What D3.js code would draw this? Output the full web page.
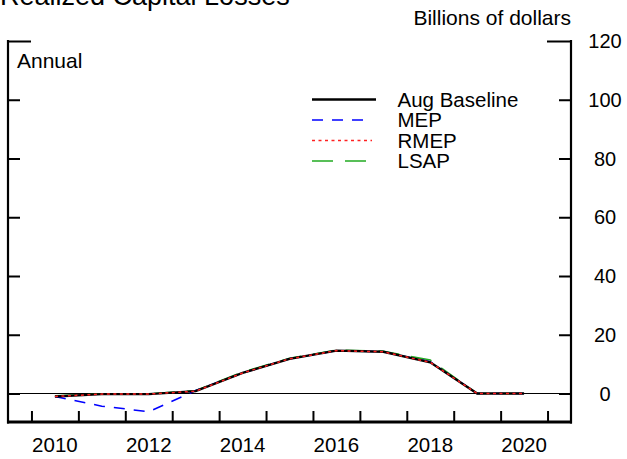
<!DOCTYPE html>
<html>
<head>
<meta charset="utf-8">
<script src="https://cdn.jsdelivr.net/npm/d3@7"></script>
<style>
  html, body { margin: 0; padding: 0; background: #fff; }
  svg { display: block; }
  text { font-family: "Liberation Sans", Arial, sans-serif; fill: #000; }
</style>
</head>
<body>
<svg id="chart" width="627" height="459"></svg>
<script>
const years = [2010, 2011, 2012, 2013, 2014, 2015, 2016, 2017, 2018, 2019, 2020];
const augBaseline = [-1.0, -0.2, -0.2, 0.8, 7.0, 11.8, 14.6, 14.2, 10.6, 0, 0];
const mep = [-1.0, -4.3, -6.2, 1.0, 7.0, 11.8, 14.6, 14.2, 10.8, 0, 0];
const rmep = [-1.0, -0.2, -0.2, 0.8, 7.0, 11.8, 14.6, 14.2, 10.6, 0, 0];
const lsap = [-0.8, -0.1, -0.1, 1.0, 7.3, 12.0, 14.8, 14.4, 11.4, 0, 0];
const yTicks = [0, 20, 40, 60, 80, 100, 120];
const xLabelYears = [2010, 2012, 2014, 2016, 2018, 2020];
const xTickYears = d3.range(2010, 2022);

const seriesList = [
  { name: "LSAP", values: lsap, color: "#22aa22", width: 1.5, dash: "21,12" },
  { name: "MEP", values: mep, color: "#0000ff", width: 1.5, dash: "11,9" },
  { name: "Aug Baseline", values: augBaseline, color: "#000000", width: 2.4, dash: null },
  { name: "RMEP", values: rmep, color: "#ff2020", width: 1.5, dash: "3,3.5" }
];
const legendOrder = ["Aug Baseline", "MEP", "RMEP", "LSAP"];
const legendLen = { "Aug Baseline": 64, "MEP": 55, "RMEP": 60, "LSAP": 55 };

const svg = d3.select("#chart");
const pLeft = 8, pRight = 571, pTop = 41, pBottom = 422;
const x = d3.scaleLinear().domain([2009.5, 2021.5]).range([pLeft, pRight]);
const y = d3.scaleLinear().domain([-9.7, 120]).range([pBottom, pTop]);

// title (partially cut at top, as in the reference)
svg.append("text").attr("x", 0).attr("y", 4.5).attr("font-size", 27).text("Realized Capital Losses");
svg.append("text").attr("x", pRight).attr("y", 25).attr("text-anchor", "end").attr("font-size", 21).text("Billions of dollars");
svg.append("text").attr("x", 17).attr("y", 67.5).attr("font-size", 21).text("Annual");

// zero line
svg.append("line").attr("x1", pLeft).attr("x2", pRight).attr("y1", y(0)).attr("y2", y(0))
  .attr("stroke", "#000").attr("stroke-width", 1);

// y ticks both sides
const yAxisL = d3.axisRight(y).tickValues(yTicks).tickSize(12).tickFormat("");
const gL = svg.append("g").attr("transform", `translate(${pLeft},0)`).call(yAxisL);
gL.select(".domain").remove();
gL.selectAll(".tick line").attr("stroke-width", 2).attr("x2", d => d === 120 ? 23 : 12);

const yAxisR = d3.axisLeft(y).tickValues(yTicks).tickSize(12).tickFormat("");
const gR = svg.append("g").attr("transform", `translate(${pRight},0)`).call(yAxisR);
gR.select(".domain").remove();
gR.selectAll(".tick line").attr("stroke-width", 2).attr("x2", d => d === 120 ? -24 : -12);

// y labels right
svg.append("g").selectAll("text").data(yTicks).join("text")
  .attr("x", 605).attr("y", d => y(d) + 7).attr("text-anchor", "middle").attr("font-size", 20)
  .text(d => d);

// x ticks
const xAxis = d3.axisTop(x).tickValues(xTickYears).tickSize(11).tickFormat("");
const gX = svg.append("g").attr("transform", `translate(0,${pBottom})`).call(xAxis);
gX.select(".domain").remove();
gX.selectAll(".tick line").attr("stroke-width", 2);

svg.append("g").selectAll("text").data(xLabelYears).join("text")
  .attr("x", d => x(d + 0.5)).attr("y", 451.5).attr("text-anchor", "middle").attr("font-size", 20.5)
  .text(d => d);

// frame: left, right, bottom
svg.append("line").attr("x1", pLeft).attr("x2", pLeft).attr("y1", pTop - 1).attr("y2", pBottom + 1.5).attr("stroke", "#000").attr("stroke-width", 2.2);
svg.append("line").attr("x1", pRight).attr("x2", pRight).attr("y1", pTop - 1).attr("y2", pBottom + 1.5).attr("stroke", "#000").attr("stroke-width", 2.2);
svg.append("line").attr("x1", pLeft - 1).attr("x2", pRight + 1).attr("y1", pBottom).attr("y2", pBottom).attr("stroke", "#000").attr("stroke-width", 3);

// series
const line = d3.line().x((d, i) => x(years[i] + 0.5)).y(d => y(d));
seriesList.forEach(s => {
  svg.append("path").datum(s.values).attr("d", line)
    .attr("fill", "none").attr("stroke", s.color).attr("stroke-width", s.width)
    .attr("stroke-dasharray", s.dash);
});

// legend
const byName = Object.fromEntries(seriesList.map(s => [s.name, s]));
legendOrder.forEach((name, i) => {
  const s = byName[name];
  const ly = 99.5 + i * 20.5;
  svg.append("line").attr("x1", 312).attr("x2", 312 + legendLen[name]).attr("y1", ly).attr("y2", ly)
    .attr("stroke", s.color).attr("stroke-width", name === "Aug Baseline" ? 2.5 : 1.5)
    .attr("stroke-dasharray", s.dash);
  svg.append("text").attr("x", 397.5).attr("y", ly + 7.3).attr("font-size", 20.5).text(name);
});
</script>
</body>
</html>
